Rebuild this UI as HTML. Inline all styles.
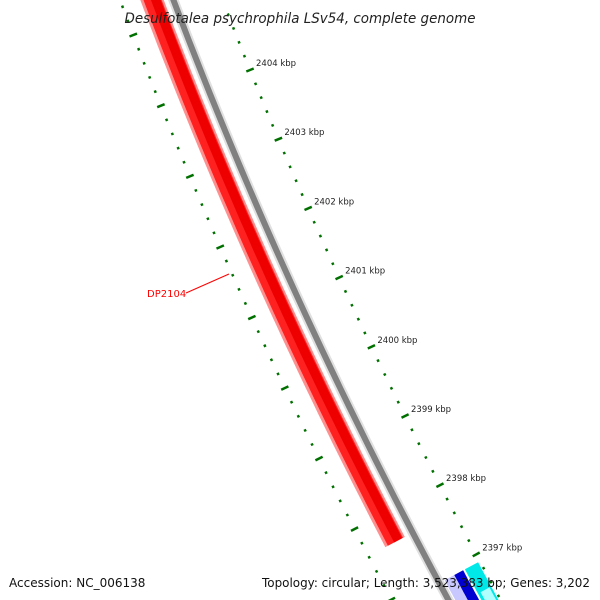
<!DOCTYPE html>
<html><head><meta charset="utf-8"><style>
html,body{margin:0;padding:0;background:#fff;width:600px;height:600px;overflow:hidden;}
svg{display:block;overflow:hidden;font-family:"DejaVu Sans","Liberation Sans",sans-serif;}
</style></head><body>
<svg id="map" width="600" height="600" viewBox="0 0 600 600" xmlns="http://www.w3.org/2000/svg">
<g id="tracks"></g>
<g id="ticks"></g>
<line x1="186" y1="293" x2="229" y2="274" stroke="#ff0000" stroke-width="1"/>
<text x="147" y="297" font-size="10" fill="#ff0000">DP2104</text>
<text x="300" y="23" text-anchor="middle" font-size="14" font-style="italic" fill="#222" textLength="351" lengthAdjust="spacingAndGlyphs">Desulfotalea psychrophila LSv54, complete genome</text>
<text x="9" y="587" font-size="12" fill="#111">Accession: NC_006138</text>
<text x="590" y="587" text-anchor="end" font-size="12" fill="#111" textLength="328" lengthAdjust="spacingAndGlyphs">Topology: circular; Length: 3,523,383 bp; Genes: 3,202</text>
</svg>
<script>
// data
const tickKbp = [2404, 2403, 2402, 2401, 2400, 2399, 2398, 2397];
const tickLabels = ["2404 kbp","2403 kbp","2402 kbp","2401 kbp","2400 kbp","2399 kbp","2398 kbp","2397 kbp"];
const featureNames = ["DP2104"];
const featureStart = [2397.62];
const featureEnd = [2406];
const smallFeatStart = [2396.9, 2396.9, 2396.9];
const smallFeatEnd = [2396.0, 2396.0, 2396.0];

const NS = "http://www.w3.org/2000/svg";
function baseY(k){ return 70 + (2404 - k) * 69.2; }
function baseX(y){ return 222.6 + 0.382*y + 0.000136*y*y; }
function slope(y){ return 0.382 + 0.000272*y; }
function pt(k, r){
  const y = baseY(k), x = baseX(y), s = slope(y), n = Math.sqrt(1+s*s);
  return [x + r/n, y - r*s/n];
}
function band(k1, k2, r1, r2){
  const pts = [];
  const steps = 40;
  for(let i=0;i<=steps;i++){ pts.push(pt(k1+(k2-k1)*i/steps, r2)); }
  for(let i=steps;i>=0;i--){ pts.push(pt(k1+(k2-k1)*i/steps, r1)); }
  return pts.map(p=>p[0].toFixed(1)+","+p[1].toFixed(1)).join(" ");
}
const tracks = document.getElementById("tracks");
const ticks = document.getElementById("ticks");
function poly(parent, points, fill, name){
  const p = document.createElementNS(NS,"polygon");
  p.setAttribute("points", points);
  p.setAttribute("fill", fill);
  
  
  parent.appendChild(p);
  return p;
}
// backbone
poly(tracks, band(2395.5, 2406, -51, -41), "#e0e0e0", "backbone-shadow");
poly(tracks, band(2395.5, 2406, -49, -43), "#808080", "backbone");
// red feature
for(let i=0;i<featureStart.length;i++){
  const a=featureStart[i], b=featureEnd[i];
  const nm = featureNames[i].toLowerCase();
  poly(tracks, band(a, b, -77, -55), "#ff9090", "feature-"+nm+"-edge");
  const f = poly(tracks, band(a, b, -74, -57), "#ff2020", "feature-"+nm);
  
  poly(tracks, band(a, b, -67, -58), "#ee0000", "feature-"+nm+"-core");
}
// small features at bottom
const sfR = [[-40,-29,"#c8c8ff"],[-29,-19,"#0000d0"],[-17,-2,"#00e8e8"]];
const sfNames = ["feature-lavender","feature-blue","feature-cyan"];
for(let i=0;i<smallFeatStart.length;i++){
  poly(tracks, band(smallFeatStart[i], smallFeatEnd[i], sfR[i][0], sfR[i][1]), sfR[i][2], sfNames[i]);
}
poly(tracks, band(2396.55, 2396.0, -14, -4), "#b0ffff", "feature-cyan-light");
function tickMark(k, r, len, name){
  const y = baseY(k), s = slope(y), n=Math.sqrt(1+s*s);
  const [x0,y0] = pt(k, r);
  const tx = s/n*len/2, ty = 1/n*len/2;
  const l = document.createElementNS(NS,"line");
  l.setAttribute("x1",(x0-tx).toFixed(1)); l.setAttribute("y1",(y0-ty).toFixed(1));
  l.setAttribute("x2",(x0+tx).toFixed(1)); l.setAttribute("y2",(y0+ty).toFixed(1));
  l.setAttribute("stroke","#007000");
  l.setAttribute("stroke-width", 2.5);
  
  
  ticks.appendChild(l);
}
// minor dots every 0.2 kbp
for(let j=0;j<=50;j++){
  const k = 2395.6 + j*0.2;
  if(Math.abs(k-Math.round(k))<0.01) continue;
  tickMark(k, 0, 2.5, "minor-tick");
  tickMark(k, -96, 2.5, "minor-tick-inner");
}
function major(k, r, name){
  const [x0,y0]=pt(k,r);
  const y=baseY(k), s=slope(y), n=Math.sqrt(1+s*s);
  const l = document.createElementNS(NS,"line");
  l.setAttribute("x1",(x0-4/n).toFixed(1)); l.setAttribute("y1",(y0+4*s/n).toFixed(1));
  l.setAttribute("x2",(x0+4/n).toFixed(1)); l.setAttribute("y2",(y0-4*s/n).toFixed(1));
  l.setAttribute("stroke","#007000"); l.setAttribute("stroke-width","2.5");
  
  
  ticks.appendChild(l);
  return [x0,y0];
}
for(let i=0;i<tickKbp.length;i++){
  const [x0,y0] = major(tickKbp[i], 0, "major-tick");
  const t = document.createElementNS(NS,"text");
  t.setAttribute("x",(x0+6).toFixed(1)); t.setAttribute("y",(y0-4).toFixed(1));
  t.setAttribute("font-size","8.5"); t.setAttribute("fill","#222");
  t.textContent = tickLabels[i];
  
  
  ticks.appendChild(t);
}
for(let k=2396;k<=2405;k++){
  major(k, -96, "major-tick-inner");
}
</script>
</body></html>
